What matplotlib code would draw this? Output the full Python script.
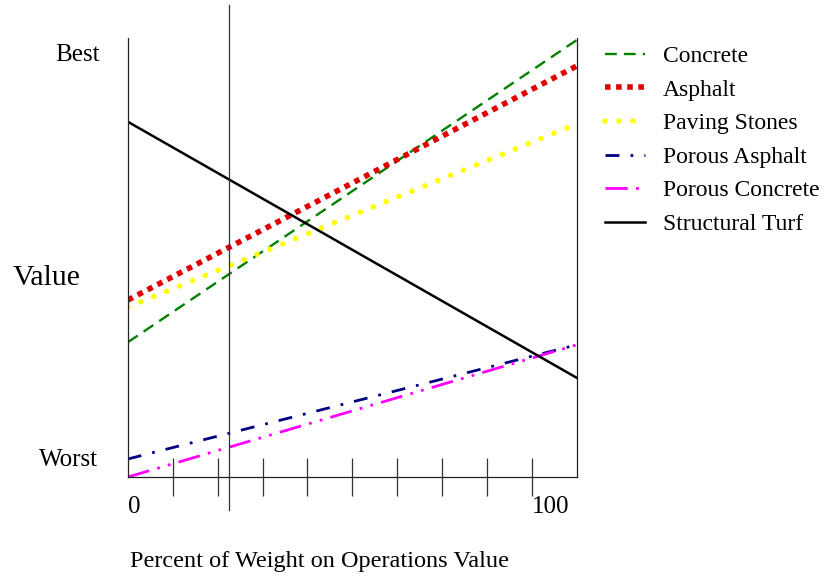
import numpy as np
import matplotlib
matplotlib.use("Agg")
import matplotlib.pyplot as plt

plt.rcParams['font.family'] = ['Liberation Serif', 'DejaVu Serif']

# weight on operations value (percent), ends of each line
x_ends = [0, 100 * 10 / 9]
names = ["Concrete", "Asphalt", "Paving Stones", "Porous Asphalt",
         "Porous Concrete", "Structural Turf"]
# value at start and end of each line (0 = worst, 1 = best)
concrete = [0.307, 0.995]
asphalt = [0.403, 0.936]
paving = [0.387, 0.804]
porous_asphalt = [0.041, 0.301]
porous_concrete = [0.0, 0.301]
turf = [0.809, 0.226]
marker_x = 25

fig = plt.figure(figsize=(8.25, 5.77), dpi=100)
ax = fig.add_axes([0.155, 0.1733, 0.544, 0.761])

ax.plot(x_ends, concrete, color="#008000", lw=1.7, dashes=(5, 3), label=names[0])
ax.plot(x_ends, asphalt, color="#e00000", lw=4, dashes=(1, 1), label=names[1])
ax.plot(x_ends, paving, color="#ffff00", lw=4, linestyle=(0, (0.01, 2.5)),
        dash_capstyle="round", label=names[2])
ax.plot(x_ends, porous_asphalt, color="#000080", lw=2, dashes=(5, 4, 1, 4), label=names[3])
ax.plot(x_ends, porous_concrete, color="#ff00ff", lw=2, dashes=(8, 3, 1, 3, 1, 3), label=names[4])
ax.plot(x_ends, turf, color="black", lw=1.8, label=names[5])

ax.plot([marker_x, marker_x], [-0.075, 1.075], color="#333333", lw=0.9, clip_on=False)

ax.set_xlim(0, 100 * 10 / 9)
ax.set_ylim(0, 1)
ax.spines["top"].set_visible(False)
for s in ["left", "bottom", "right"]:
    ax.spines[s].set_linewidth(0.9)
    ax.spines[s].set_color("#222222")

ax.xaxis.remove_overlapping_locs = False
ax.set_xticks([0, 100])
ax.set_xticklabels(["0", "100"], fontsize=18, ha="left")
ax.set_xticks([k * 100 / 9 for k in range(1, 10)], minor=True)
ax.tick_params(axis="x", which="major", length=0, pad=14)
ax.tick_params(axis="x", which="minor", direction="inout", length=27, width=0.9, color="#333333")
ax.set_yticks([])

fig.text(100 / 825, 1 - 55 / 577, "Best", ha="right", va="center", fontsize=18)
fig.text(98 / 825, 1 - 460 / 577, "Worst", ha="right", va="center", fontsize=18)
fig.text(13 / 825, 1 - 278 / 577, "Value", ha="left", va="center", fontsize=21.5)
fig.text(130 / 825, 1 - 562 / 577, "Percent of Weight on Operations Value",
         ha="left", va="center", fontsize=17.5)

ax.legend(loc="upper left", bbox_to_anchor=(1.042, 1.004), borderaxespad=0,
          frameon=False, fontsize=17, handlelength=1.7, handletextpad=0.75,
          labelspacing=0.51)

fig.savefig("out.png", dpi=100)
